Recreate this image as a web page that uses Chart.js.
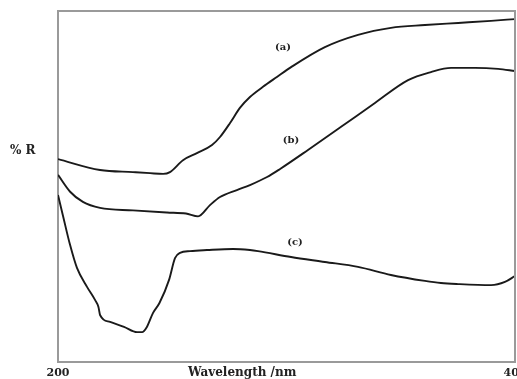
<!DOCTYPE html>
<html><head><meta charset="utf-8">
<script src="https://cdn.jsdelivr.net/npm/chart.js@4"></script>
<style>html,body{margin:0;padding:0;background:#fff}#wrap{width:517px;height:379px;position:relative}</style>
</head><body><div id="wrap"><canvas id="c" width="517" height="379"></canvas></div>
<script>
// Wavelength (nm) and %R values
const aWave = [200,218.4,232.8,240.3,246,249,254.7,260.8,267.4,270.9,275.3,279.6,284,289.7,295.8,302,316.8,331.3,345.7,360.6,375.1,389.5,400];
const aR    = [57.8,54.7,54.1,53.8,53.6,54.1,57.5,59.5,61.8,64.1,68.1,72.4,75.5,78.4,81.2,84.0,89.7,93.2,95.2,96.0,96.6,97.2,97.7];
const bWave = [200,205.3,210.9,218.4,232.8,247.7,256,261.3,266.5,270.9,278.3,284,291.5,297.2,309.4,323.9,338.7,353.2,363.2,372,382.5,392.6,400];
const bR    = [53.3,48.5,45.6,43.9,43.2,42.6,42.3,41.5,44.7,47.0,49.0,50.4,52.7,55.0,60.4,67.0,73.8,80.3,82.6,83.8,83.8,83.5,82.9];
const cWave = [200,202.2,205.3,208.3,212.7,216.2,217.7,218.4,222.8,228.9,234.6,236.8,238.9,241.6,244.4,248.6,251.2,253.4,257.8,265.2,276.6,284,287.5,302,316.8,331.3,345.7,360.6,367.6,375.1,389.5,395.6,400];
const cR    = [47.6,41.6,33.3,26.8,21.4,17.7,15.7,13.4,11.4,10.0,8.5,8.5,10.0,14.0,16.8,23.4,29.6,31.1,31.6,31.9,32.2,31.9,31.6,29.9,28.5,27.1,24.8,23.1,22.5,22.2,21.9,22.8,24.5];
const xTicks = [200, 400];
const seriesNames = ['(a)','(b)','(c)'];
const nameWave = [298.5, 302, 303.7];
const nameR = [89.5, 63.2, 34.2];
const yTitle = '% R';
const xTitle = 'Wavelength /nm';

const pts = (xs, ys) => xs.map((x,i)=>({x, y: ys[i]}));
const lineDs = (xs, ys) => ({data: pts(xs, ys), borderColor:'#1a1a1a', borderWidth:1.9, pointRadius:0, cubicInterpolationMode:'monotone', fill:false});

const SERIF = '"DejaVu Serif", "Liberation Serif", serif';

const textPlugin = {
  id:'texts',
  afterDraw(chart){
    const {ctx, chartArea:a, scales:{x,y}} = chart;
    ctx.save();
    ctx.strokeStyle = '#9a9a9a';
    ctx.lineWidth = 2;
    ctx.beginPath();
    ctx.moveTo(a.left, a.top); ctx.lineTo(a.right, a.top); ctx.lineTo(a.right, a.bottom);
    ctx.stroke();
    ctx.fillStyle = '#222';
    ctx.textAlign = 'center'; ctx.textBaseline = 'middle';
    ctx.font = 'bold 10px ' + SERIF;
    seriesNames.forEach((n,i)=>{ ctx.fillText(n, x.getPixelForValue(nameWave[i]), y.getPixelForValue(nameR[i])); });
    ctx.font = 'bold 12px ' + SERIF;
    ctx.textAlign = 'left';
    ctx.fillText(yTitle, 10, 151);
    ctx.fillText(xTitle, 188, 373);
    ctx.restore();
  }
};

new Chart(document.getElementById('c'), {
  type:'line',
  data:{datasets:[lineDs(aWave,aR), lineDs(bWave,bR), lineDs(cWave,cR)]},
  options:{
    responsive:false, animation:false,
    layout:{padding:{top:11, right:2, left:0, bottom:0}},
    plugins:{legend:{display:false}, tooltip:{enabled:false}},
    scales:{
      x:{type:'linear', min:200, max:400,
        grid:{display:false, drawTicks:false},
        border:{display:true, color:'#9a9a9a', width:2},
        afterBuildTicks:(s)=>{ s.ticks = xTicks.map(v=>({value:v})); },
        ticks:{padding:5, maxRotation:0, autoSkip:false, color:'#222', font:{family:SERIF, size:11, weight:'bold'}},
        afterFit:(s)=>{ s.height = 17; s.paddingLeft = 0; s.paddingRight = 0; }
      },
      y:{min:0, max:100,
        grid:{display:false, drawTicks:false},
        border:{display:true, color:'#9a9a9a', width:2},
        ticks:{display:false},
        afterFit:(s)=>{ s.width = 58; }
      }
    }
  },
  plugins:[textPlugin]
});
</script></body></html>
